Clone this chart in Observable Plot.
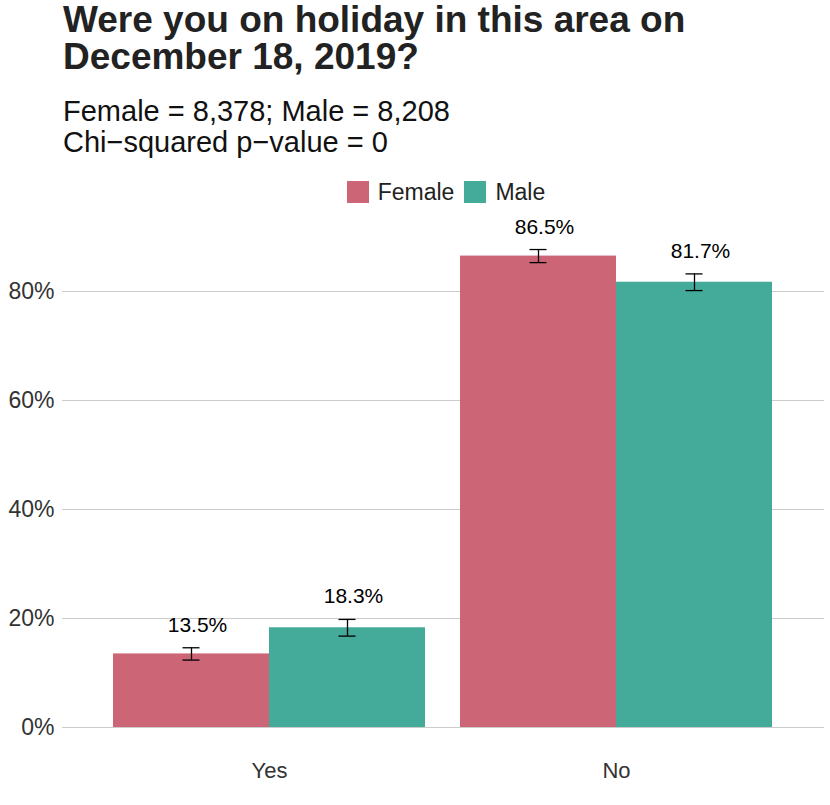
<!DOCTYPE html>
<html>
<head>
<meta charset="utf-8">
<script src="https://cdn.jsdelivr.net/npm/d3@7"></script>
<script src="https://cdn.jsdelivr.net/npm/@observablehq/plot@0.6"></script>
<style>
  html, body { margin: 0; padding: 0; background: #fff; }
  body { font-family: "Liberation Sans", Arial, sans-serif; }
  #root { position: relative; width: 830px; height: 805px; overflow: hidden; }
  #title { position: absolute; left: 63px; top: 1px; font-size: 37px; line-height: 37px; font-weight: bold; color: #222; white-space: nowrap; }
  #subtitle { position: absolute; left: 63px; top: 96px; font-size: 29px; line-height: 31px; color: #111; white-space: nowrap; }
  #legend { position: absolute; left: 65px; width: 762px; top: 181px; height: 22px; display: flex; justify-content: center; align-items: center; font-size: 23px; line-height: 22px; color: #222; }
  .item { display: flex; align-items: center; margin: 0 5px; }
  .sw { width: 22px; height: 22px; margin-right: 9px; }
  .layer { position: absolute; left: 0; top: 210px; }
  .layer svg { display: block; }
</style>
</head>
<body>
<div id="root">
  <div id="title">Were you on holiday in this area on<br>December 18, 2019?</div>
  <div id="subtitle">Female = 8,378; Male = 8,208<br>Chi−squared p−value = 0</div>
  <div id="legend"></div>
  <div id="grid" class="layer"></div>
  <div id="chart" class="layer"></div>
</div>
<script>
const categories = ["Yes", "No"];
const sexes = ["Female", "Male"];
const colors = ["#CC6677", "#44AA99"];
const femaleValues = [0.135, 0.865];
const maleValues = [0.183, 0.817];
const femaleErrors = [0.0113, 0.012];
const maleErrors = [0.0153, 0.0153];
const yTicks = [0, 0.2, 0.4, 0.6, 0.8];

const rows = [];
categories.forEach((c, i) => {
  rows.push({answer: c, sex: "Female", value: femaleValues[i], lower: femaleValues[i] - femaleErrors[i], upper: femaleValues[i] + femaleErrors[i]});
  rows.push({answer: c, sex: "Male", value: maleValues[i], lower: maleValues[i] - maleErrors[i], upper: maleValues[i] + maleErrors[i]});
});

// legend
const legend = document.getElementById("legend");
sexes.forEach((s, i) => {
  const item = document.createElement("div");
  item.className = "item";
  const sw = document.createElement("div");
  sw.className = "sw";
  sw.style.background = colors[i];
  const t = document.createElement("span");
  t.textContent = s;
  item.appendChild(sw);
  item.appendChild(t);
  legend.appendChild(item);
});

const common = {
  width: 830,
  height: 595,
  marginLeft: 62,
  marginRight: 6,
  marginTop: 26.5,
  marginBottom: 78,
  y: {domain: [0, 0.9], axis: null}
};

// background: gridlines spanning the full panel + y axis
const grid = Plot.plot({
  ...common,
  style: {fontFamily: "Liberation Sans, Arial, sans-serif", background: "white"},
  marks: [
    Plot.ruleY(yTicks, {stroke: "#cccccc", strokeWidth: 1.2}),
    Plot.axisY(yTicks, {tickFormat: d3.format(".0%"), tickSize: 0, tickPadding: 8, fontSize: 23, fill: "#333", label: null})
  ]
});
document.getElementById("grid").appendChild(grid);

const capInset = 69.5;

const chart = Plot.plot({
  ...common,
  style: {fontFamily: "Liberation Sans, Arial, sans-serif", background: "transparent"},
  fx: {domain: categories, paddingInner: 0.1, paddingOuter: 0.145, label: null, axis: null},
  x: {domain: sexes, padding: 0, axis: null},
  color: {domain: sexes, range: colors},
  marks: [
    Plot.axisFx({tickSize: 0, tickPadding: 35, fontSize: 22, fill: "#333", label: null, anchor: "bottom"}),
    Plot.barY(rows, {fx: "answer", x: "sex", y: "value", fill: "sex"}),
    Plot.ruleX(rows, {fx: "answer", x: "sex", y1: "lower", y2: "upper", stroke: "black", strokeWidth: 1.3}),
    Plot.tickY(rows, {fx: "answer", x: "sex", y: "lower", stroke: "black", strokeWidth: 1.3, insetLeft: capInset, insetRight: capInset}),
    Plot.tickY(rows, {fx: "answer", x: "sex", y: "upper", stroke: "black", strokeWidth: 1.3, insetLeft: capInset, insetRight: capInset}),
    Plot.text(rows, {fx: "answer", x: "sex", y: "upper", text: d => d3.format(".1%")(d.value), dy: -16, dx: 6, lineAnchor: "bottom", fontSize: 21, fill: "black"})
  ]
});
document.getElementById("chart").appendChild(chart);
</script>
</body>
</html>
